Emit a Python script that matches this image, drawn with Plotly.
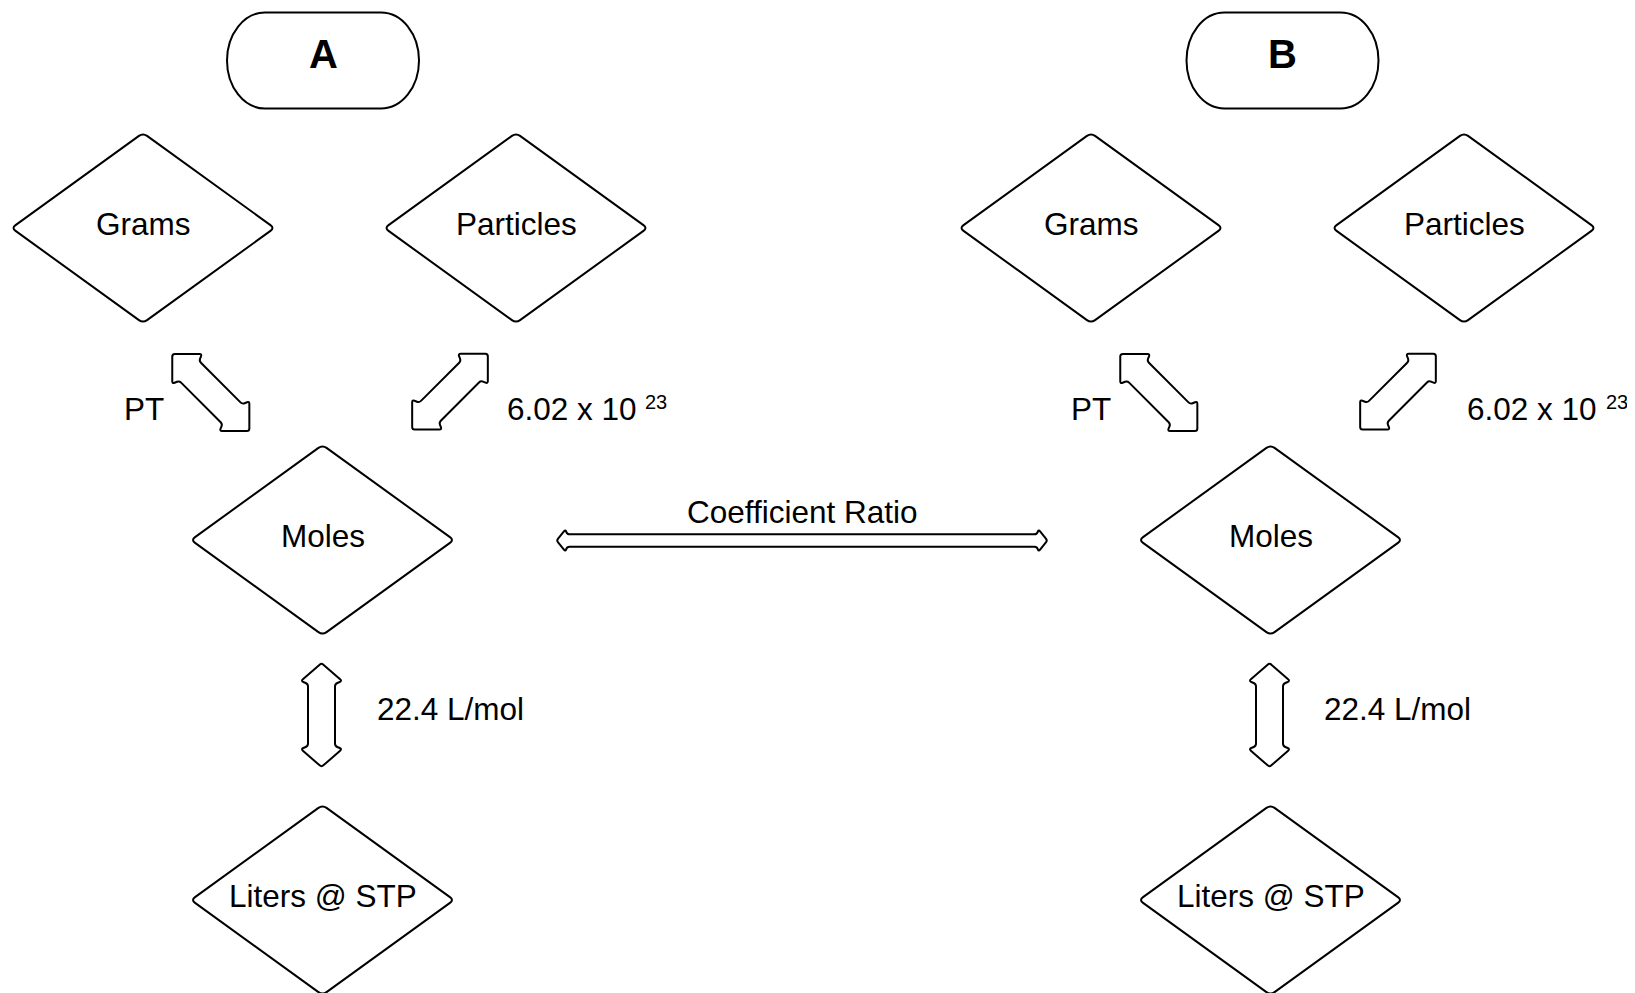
import math
import plotly.graph_objects as go

W, H = 1635, 993
PAGE_OFF = 8  # default body margin of the html page

# ---- terminal (pill) nodes ----
pill_labels = ["A", "B"]
pill_x = [323, 1282.5]
pill_y = [60.5, 60.5]
pill_w = 192
pill_h = 96

# ---- decision (diamond) nodes ----
diamond_labels = ["Grams", "Particles", "Moles", "Liters @ STP",
                  "Grams", "Particles", "Moles", "Liters @ STP"]
diamond_x = [143, 516, 322.5, 322.5, 1091, 1464, 1270.5, 1270.5]
diamond_y = [228, 228, 540, 900, 228, 228, 540, 900]
diamond_hw = 131.5
diamond_hh = 95

# ---- double-headed block arrows ----
arrow_cx = [210.8, 450.0, 321.5, 1158.8, 1398.0, 1269.5, 802.0]
arrow_cy = [392.5, 391.7, 715.0, 392.5, 391.7, 715.0, 540.5]
arrow_angle = [45, 135, 90, 45, 135, 90, 0]
arrow_len = [109, 107, 104, 109, 107, 104, 491]
arrow_head_w = [42, 42, 41, 42, 42, 41, 22]
arrow_shaft_w = [28, 28, 27, 28, 28, 27, 12.5]
arrow_head_len = [21, 21, 18, 21, 21, 18, 9]

# ---- edge labels ----
edge_labels = ["PT", "6.02 x 10", "22.4 L/mol", "PT", "6.02 x 10", "22.4 L/mol", "Coefficient Ratio"]
edge_x = [143.5, 505, 375, 1091, 1465, 1322, 802]
edge_y = [409, 409, 709, 409, 409, 709, 512]
edge_anchor = ["center", "left", "left", "center", "left", "left", "center"]
sup_labels = ["23", "23"]
sup_x = [643, 1604]
sup_y = [402, 402]

FONT = "Liberation Sans, Arial, sans-serif"
LABEL_SIZE = 31.5


def rounded_path(pts, r):
    n = len(pts)
    segs = []
    for i in range(n):
        vx, vy = pts[i]
        px, py = pts[i - 1]
        nx, ny = pts[(i + 1) % n]
        d0 = math.hypot(px - vx, py - vy)
        d1 = math.hypot(nx - vx, ny - vy)
        r0 = min(r, d0 / 2)
        r1 = min(r, d1 / 2)
        ax, ay = vx + (px - vx) * r0 / d0, vy + (py - vy) * r0 / d0
        bx, by = vx + (nx - vx) * r1 / d1, vy + (ny - vy) * r1 / d1
        segs.append((ax, ay, vx, vy, bx, by))
    p = "M %.2f,%.2f " % (segs[0][0], segs[0][1])
    for i, (ax, ay, vx, vy, bx, by) in enumerate(segs):
        if i > 0:
            p += "L %.2f,%.2f " % (ax, ay)
        p += "Q %.2f,%.2f %.2f,%.2f " % (vx, vy, bx, by)
    return p + "Z"


def pill_path(cx, cy, w, h, rx):
    k = 0.5523
    x0, x1 = cx - w / 2, cx + w / 2
    y0, y1 = cy - h / 2, cy + h / 2
    ry = h / 2
    return (f"M {x0+rx},{y0} L {x1-rx},{y0} "
            f"C {x1-rx+k*rx},{y0} {x1},{cy-k*ry} {x1},{cy} "
            f"C {x1},{cy+k*ry} {x1-rx+k*rx},{y1} {x1-rx},{y1} "
            f"L {x0+rx},{y1} "
            f"C {x0+rx-k*rx},{y1} {x0},{cy+k*ry} {x0},{cy} "
            f"C {x0},{cy-k*ry} {x0+rx-k*rx},{y0} {x0+rx},{y0} Z")


def arrow_points(cx, cy, ang, L, hw, sw, hl, notch=3):
    a = math.radians(ang)
    ca, sa = math.cos(a), math.sin(a)
    loc = [(-L / 2, 0), (-L / 2 + hl, hw / 2), (-L / 2 + hl + notch, sw / 2),
           (L / 2 - hl - notch, sw / 2), (L / 2 - hl, hw / 2), (L / 2, 0),
           (L / 2 - hl, -hw / 2), (L / 2 - hl - notch, -sw / 2),
           (-L / 2 + hl + notch, -sw / 2), (-L / 2 + hl, -hw / 2)]
    return [(cx + u * ca - v * sa, cy + u * sa + v * ca) for u, v in loc]


line = dict(color="black", width=2)
shapes = []
for cx, cy in zip(pill_x, pill_y):
    shapes.append(dict(type="path", xref="x", yref="y", path=pill_path(cx, cy, pill_w, pill_h, 38),
                       line=line, fillcolor="white"))
for cx, cy in zip(diamond_x, diamond_y):
    pts = [(cx, cy - diamond_hh), (cx + diamond_hw, cy), (cx, cy + diamond_hh), (cx - diamond_hw, cy)]
    shapes.append(dict(type="path", xref="x", yref="y", path=rounded_path(pts, 5),
                       line=line, fillcolor="white"))
for i in range(len(arrow_cx)):
    pts = arrow_points(arrow_cx[i], arrow_cy[i], arrow_angle[i], arrow_len[i],
                       arrow_head_w[i], arrow_shaft_w[i], arrow_head_len[i],
                       notch=3 if arrow_len[i] < 200 else 1.5)
    shapes.append(dict(type="path", xref="x", yref="y", path=rounded_path(pts, 2.5),
                       line=line, fillcolor="white"))

annotations = []
for lab, cx, cy in zip(pill_labels, pill_x, pill_y):
    annotations.append(dict(x=cx, y=cy - 7, text=f"<b>{lab}</b>", showarrow=False,
                            xref="x", yref="y", xanchor="center", yanchor="middle",
                            font=dict(family=FONT, size=40, color="black")))
for lab, cx, cy in zip(diamond_labels, diamond_x, diamond_y):
    annotations.append(dict(x=cx, y=cy - 4.5, text=lab, showarrow=False,
                            xref="x", yref="y", xanchor="center", yanchor="middle",
                            font=dict(family=FONT, size=LABEL_SIZE, color="black")))
for lab, x, y, anc in zip(edge_labels, edge_x, edge_y, edge_anchor):
    annotations.append(dict(x=x, y=y, text=lab, showarrow=False,
                            xref="x", yref="y", xanchor=anc, yanchor="middle",
                            font=dict(family=FONT, size=LABEL_SIZE, color="black")))
for lab, x, y in zip(sup_labels, sup_x, sup_y):
    annotations.append(dict(x=x, y=y, text=lab, showarrow=False,
                            xref="x", yref="y", xanchor="left", yanchor="middle",
                            font=dict(family=FONT, size=20, color="black")))

fig = go.Figure()
fig.update_layout(
    width=W - PAGE_OFF, height=H - PAGE_OFF,
    margin=dict(l=0, r=0, t=0, b=0),
    paper_bgcolor="white", plot_bgcolor="white",
    xaxis=dict(range=[PAGE_OFF, W], visible=False, fixedrange=True),
    yaxis=dict(range=[H, PAGE_OFF], visible=False, fixedrange=True),
    shapes=shapes, annotations=annotations, showlegend=False,
)
fig.write_html("out.html")
